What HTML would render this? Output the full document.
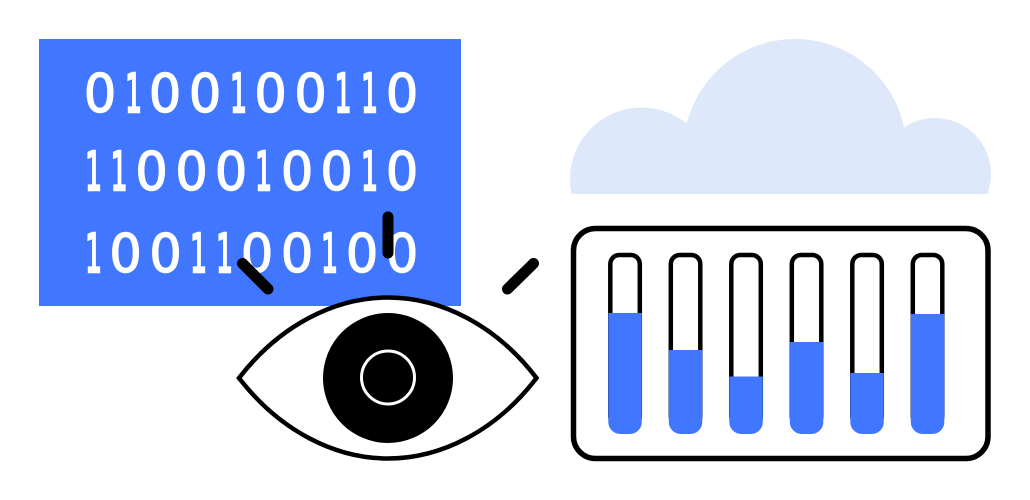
<!DOCTYPE html>
<html><head><meta charset="utf-8"><style>html,body{margin:0;padding:0;background:#fff}svg{display:block}
text{font-family:'DejaVu Sans',sans-serif;font-size:53px;fill:#fff;stroke:#fff;text-anchor:middle}
.z{stroke-width:1.4px}.o{stroke-width:2.4px}</style></head>
<body>
<svg width="1030" height="500" viewBox="0 0 1030 500" xmlns="http://www.w3.org/2000/svg">
<defs><clipPath id="c"><rect x="0" y="0" width="1030" height="194"/></clipPath></defs>
<rect width="1030" height="500" fill="#fff"/>
<g clip-path="url(#c)" fill="#dde8fb">
<circle cx="641.500" cy="179" r="71.500"/>
<circle cx="795" cy="150.400" r="111.400"/>
<circle cx="935" cy="174" r="56"/>
<rect x="640" y="150" width="295" height="50"/>
</g>
<rect x="39" y="39" width="422" height="267" fill="#4177ff"/>
<g>
<text class="z" transform="translate(100 112) scale(.96 1)">0</text>
<text class="o" transform="translate(133.500 112) scale(.5 1)">1</text>
<text class="z" transform="translate(165 112) scale(.96 1)">0</text>
<text class="z" transform="translate(205 112) scale(.96 1)">0</text>
<text class="o" transform="translate(238.500 112) scale(.5 1)">1</text>
<text class="z" transform="translate(270.500 112) scale(.96 1)">0</text>
<text class="z" transform="translate(310.500 112) scale(.96 1)">0</text>
<text class="o" transform="translate(343 112) scale(.5 1)">1</text>
<text class="o" transform="translate(369.500 112) scale(.5 1)">1</text>
<text class="z" transform="translate(402 112) scale(.96 1)">0</text>

<text class="o" transform="translate(93.500 190) scale(.5 1)">1</text>
<text class="o" transform="translate(119 190) scale(.5 1)">1</text>
<text class="z" transform="translate(151.500 190) scale(.96 1)">0</text>
<text class="z" transform="translate(191.500 190) scale(.96 1)">0</text>
<text class="z" transform="translate(231 190) scale(.96 1)">0</text>
<text class="o" transform="translate(263.500 190) scale(.5 1)">1</text>
<text class="z" transform="translate(297 190) scale(.96 1)">0</text>
<text class="z" transform="translate(336.500 190) scale(.96 1)">0</text>
<text class="o" transform="translate(369.500 190) scale(.5 1)">1</text>
<text class="z" transform="translate(402 190) scale(.96 1)">0</text>

<text class="o" transform="translate(93.500 272) scale(.5 1)">1</text>
<text class="z" transform="translate(125.500 272) scale(.96 1)">0</text>
<text class="z" transform="translate(165.500 272) scale(.96 1)">0</text>
<text class="o" transform="translate(198.500 272) scale(.5 1)">1</text>
<text class="o" transform="translate(224.500 272) scale(.5 1)">1</text>
<text class="z" transform="translate(257 272) scale(.96 1)">0</text>
<text class="z" transform="translate(297 272) scale(.96 1)">0</text>
<text class="o" transform="translate(329.500 272) scale(.5 1)">1</text>
<text class="z" transform="translate(362 272) scale(.96 1)">0</text>
<text class="z" transform="translate(402 272) scale(.96 1)">0</text>
</g>
<path d="M239 378C280 325 335 297.500 388 297.500C441 297.500 496 325 536.500 378C496 431 441 458.500 388 458.500C335 458.500 280 431 239 378Z" fill="#fff" stroke="#000" stroke-width="4.500"/>
<circle cx="388" cy="378" r="65" fill="#000"/>
<circle cx="388" cy="377.500" r="26.500" fill="none" stroke="#fff" stroke-width="3"/>
<g stroke="#000" stroke-width="11" stroke-linecap="round" fill="none">
<path d="M388 217V253"/>
<path d="M242.500 263.500L268 289"/>
<path d="M533.500 263.500L507.500 289"/>
</g>
<rect x="573.500" y="228.500" width="414.500" height="230" rx="22" fill="#fff" stroke="#000" stroke-width="5.500"/>
<g fill="#fff" stroke="#000" stroke-width="4.500">
<rect x="610.300" y="255" width="29.500" height="170" rx="9"/>
<rect x="670.800" y="255" width="29.500" height="170" rx="9"/>
<rect x="731.300" y="255" width="29.500" height="170" rx="9"/>
<rect x="791.800" y="255" width="29.500" height="170" rx="9"/>
<rect x="852.300" y="255" width="29.500" height="170" rx="9"/>
<rect x="912.800" y="255" width="29.500" height="170" rx="9"/>
</g>
<g fill="#4177ff">
<path d="M608.300 313H641.800V422a12 12 0 0 1-12 12H620.300a12 12 0 0 1-12-12Z"/>
<path d="M668.800 350H702.300V422a12 12 0 0 1-12 12H680.800a12 12 0 0 1-12-12Z"/>
<path d="M729.300 376.500H762.800V422a12 12 0 0 1-12 12H741.300a12 12 0 0 1-12-12Z"/>
<path d="M789.800 342H823.300V422a12 12 0 0 1-12 12H801.800a12 12 0 0 1-12-12Z"/>
<path d="M850.300 373H883.800V422a12 12 0 0 1-12 12H862.300a12 12 0 0 1-12-12Z"/>
<path d="M910.800 314H944.300V422a12 12 0 0 1-12 12H922.800a12 12 0 0 1-12-12Z"/>
</g>
</svg>
</body></html>
